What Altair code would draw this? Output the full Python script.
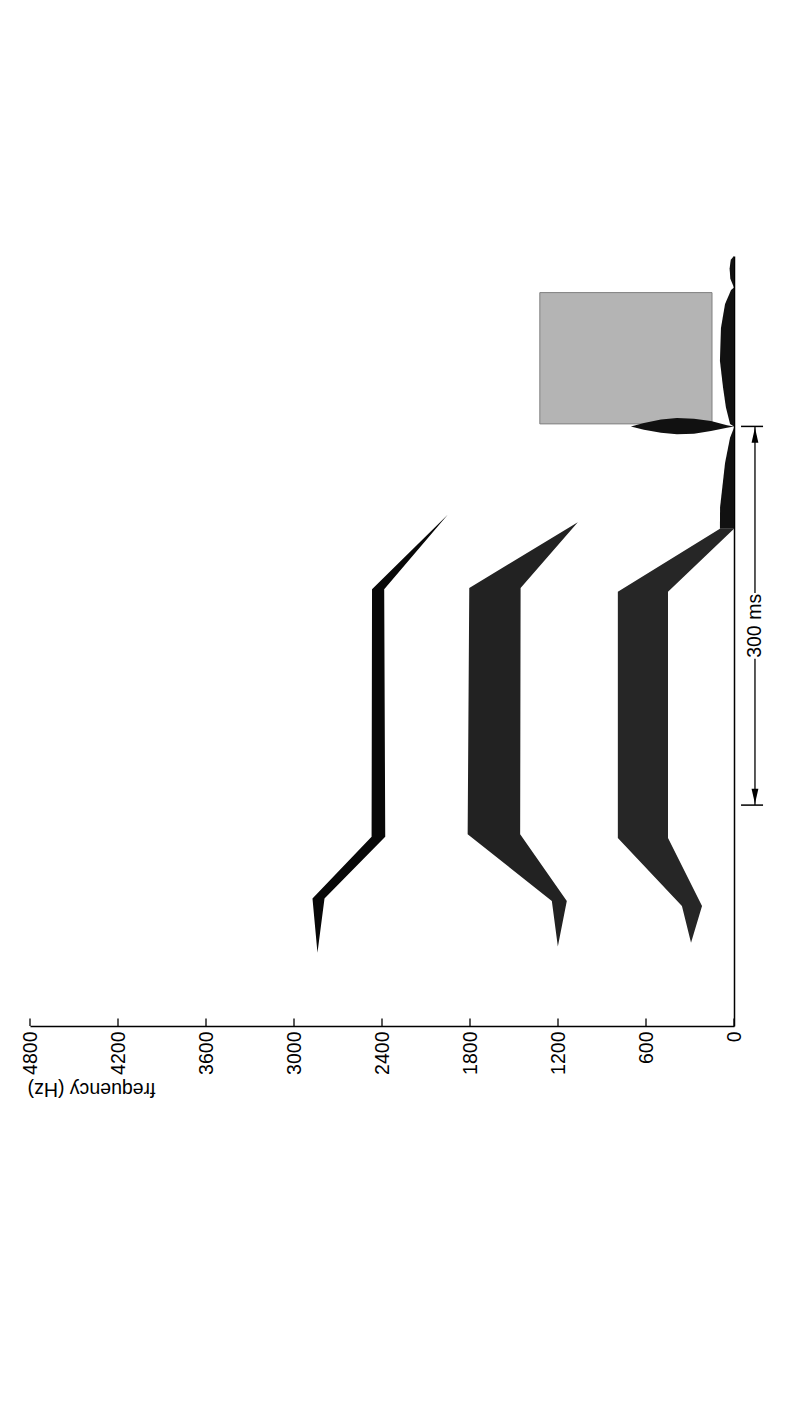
import altair as alt
import pandas as pd

# ---------------- data (frequency in Hz, time in ms) ----------------
freq_ticks = [0, 600, 1200, 1800, 2400, 3000, 3600, 4200, 4800]

# formant bands: time breakpoints, low edge, high edge
F1_t = [66, 95, 149, 344, 394]
F1_lo = [293, 218, 450, 450, 0]
F1_hi = [293, 355, 792, 792, 96]

F2_t = [63, 99, 152, 347, 399]
F2_lo = [1201, 1140, 1458, 1455, 1065]
F2_hi = [1201, 1242, 1816, 1805, 1065]

F3_t = [58, 101, 150, 346, 405]
F3_lo = [2840, 2792, 2378, 2385, 1952]
F3_hi = [2840, 2874, 2471, 2468, 1952]

# envelope lobes along the time axis (width in Hz)
lobeA_t = [394, 411, 446, 466, 474]
lobeA_w = [96, 95, 61, 27, 0]
lobeB_t = [475, 477, 490, 506, 527, 553, 572, 583, 585]
lobeB_w = [0, 27, 55, 75, 96, 89, 61, 20, 0]
lobeC_t = [585, 592, 600, 607, 610]
lobeC_w = [0, 25, 30, 22, 0]

# release burst (lens along frequency)
burst_f = [0, 48, 157, 273, 389, 498, 614, 703]
burst_tlo = [475, 474, 471.3, 469.2, 468.7, 470, 472.4, 475]
burst_thi = [475, 476, 479.3, 481.1, 481.7, 480.4, 477.7, 475]

# noise rectangle
noise_f = [150, 1324]
noise_t = [477, 581]

# 300 ms annotation
arrow_f = -143
arrow_bar_f = [-48, -198]
arrow_t = [175, 475]
arrow_gap_t = [291, 343]
arrow_label = "300 ms"

T_MAX = 610
TICK_LEN = 6

FONT = "Liberation Sans"
xscale = alt.Scale(domain=[0, 4800], reverse=True, nice=False, zero=False)
yscale = alt.Scale(domain=[0, T_MAX], nice=False, zero=False)

xaxis = alt.Axis(values=freq_ticks, format="d", labelAngle=270, labelFontSize=19.5, labelFont=FONT,
                 labelColor="black", labelFlush=False, labelOverlap=False, labelPadding=5,
                 ticks=False, grid=False, domainColor="black", domainWidth=1.5,
                 title="frequency (Hz)", titleFont=FONT, titleFontSize=19.5,
                 titleFontWeight="normal", titleColor="black", titleAngle=180,
                 titleX=125, titleY=56, titleAlign="left", titleBaseline="alphabetic")
yaxis = alt.Axis(orient="right", labels=False, ticks=False, grid=False, title="",
                 domainColor="black", domainWidth=1.5)


def X(field, **kw):
    return alt.X(field, scale=xscale, axis=xaxis, **kw)


def Y(field, **kw):
    return alt.Y(field, scale=yscale, axis=yaxis, **kw)


# ---------------- layers ----------------
ticks = pd.DataFrame({"f": freq_ticks, "t0": [0] * len(freq_ticks), "t1": [TICK_LEN] * len(freq_ticks)})
tick_layer = alt.Chart(ticks).mark_rule(color="black", strokeWidth=1.3).encode(
    x=X("f:Q"), y=Y("t0:Q"), y2="t1:Q")

noise = pd.DataFrame({"f1": [noise_f[0]], "f2": [noise_f[1]], "t1": [noise_t[0]], "t2": [noise_t[1]]})
noise_layer = alt.Chart(noise).mark_rect(fill="#b4b4b4", stroke="#808080", strokeWidth=1).encode(
    x=X("f1:Q"), x2="f2:Q", y=Y("t1:Q"), y2="t2:Q")


def hband(ts, los, his, color):
    d = pd.DataFrame({"t": ts, "lo": los, "hi": his})
    return alt.Chart(d).mark_area(orient="horizontal", color=color, opacity=1).encode(
        y=Y("t:Q"), x=X("lo:Q", stack=None), x2="hi:Q")


form_layers = [
    hband(F1_t, F1_lo, F1_hi, "#262626"),
    hband(F2_t, F2_lo, F2_hi, "#222222"),
    hband(F3_t, F3_lo, F3_hi, "#080808"),
]
lobe_layers = [
    hband(lobeA_t, [0] * len(lobeA_t), lobeA_w, "#111111"),
    hband(lobeB_t, [0] * len(lobeB_t), lobeB_w, "#111111"),
    hband(lobeC_t, [0] * len(lobeC_t), lobeC_w, "#111111"),
]

burst = pd.DataFrame({"f": burst_f, "tlo": burst_tlo, "thi": burst_thi})
burst_layer = alt.Chart(burst).mark_area(orient="vertical", color="#111111", opacity=1).encode(
    x=X("f:Q"), y=Y("tlo:Q", stack=None), y2="thi:Q")

segs = pd.DataFrame({"f": [arrow_f, arrow_f], "ta": [arrow_t[0], arrow_gap_t[1]],
                     "tb": [arrow_gap_t[0], arrow_t[1]]})
seg_layer = alt.Chart(segs).mark_rule(color="black", strokeWidth=1.3).encode(
    x=X("f:Q"), y=Y("ta:Q"), y2="tb:Q")

bars = pd.DataFrame({"fa": [arrow_bar_f[0]] * 2, "fb": [arrow_bar_f[1]] * 2, "t": arrow_t})
bar_layer = alt.Chart(bars).mark_rule(color="black", strokeWidth=1.5).encode(
    x=X("fa:Q"), x2="fb:Q", y=Y("t:Q"))

head_up_df = pd.DataFrame({"f": [arrow_f], "t": [arrow_t[1] - 7]})
head_dn_df = pd.DataFrame({"f": [arrow_f], "t": [arrow_t[0] + 7]})
head_up = alt.Chart(head_up_df).mark_point(
    shape="M0,-1L0.45,1L-0.45,1Z", size=230, filled=True, color="black", opacity=1).encode(
    x=X("f:Q"), y=Y("t:Q"))
head_down = alt.Chart(head_dn_df).mark_point(
    shape="M0,1L0.45,-1L-0.45,-1Z", size=230, filled=True, color="black", opacity=1).encode(
    x=X("f:Q"), y=Y("t:Q"))

label = pd.DataFrame({"f": [arrow_f], "t": [(arrow_gap_t[0] + arrow_gap_t[1]) / 2], "txt": [arrow_label]})
text_layer = alt.Chart(label).mark_text(angle=270, font=FONT, fontSize=19.5, color="black",
                                        align="center", baseline="middle").encode(
    x=X("f:Q"), y=Y("t:Q"), text="txt:N")

chart = alt.layer(
    tick_layer, noise_layer, *form_layers, *lobe_layers, burst_layer,
    seg_layer, bar_layer, head_up, head_down, text_layer,
).properties(
    width=704, height=770,
    autosize=alt.AutoSizeParams(type="none"),
    padding={"left": 30, "top": 256, "right": 60, "bottom": 378},
    background="white",
).configure_view(stroke=None)

chart.save("out.html", embed_options={"renderer": "svg", "actions": False})
